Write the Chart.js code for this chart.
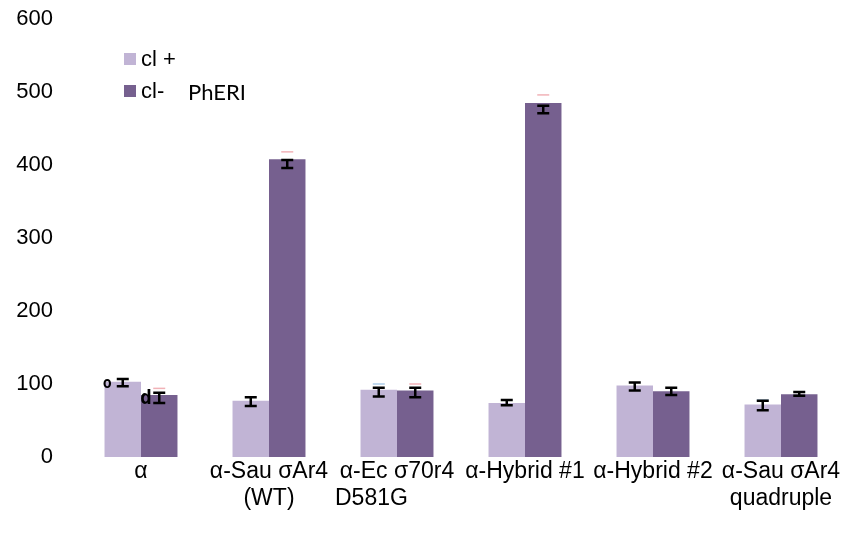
<!DOCTYPE html>
<html>
<head>
<meta charset="utf-8">
<script src="https://cdn.jsdelivr.net/npm/chart.js@4/dist/chart.umd.min.js"></script>
<style>
  html, body { margin: 0; padding: 0; background: #ffffff; }
  #wrap { width: 845px; height: 543px; position: relative; }
</style>
</head>
<body>
<div id="wrap"><canvas id="chart"></canvas></div>
<script>
// Categories (multi-line labels; the D581G line is padded so it sits under the start of its first line)
const categories = [
  ["α"],
  ["α-Sau σAr4", "(WT)"],
  ["α-Ec σ70r4", "D581G        "],
  ["α-Hybrid #1"],
  ["α-Hybrid #2"],
  ["α-Sau σAr4", "quadruple"]
];

// Series: cl +
const clPlus = [103, 77, 92, 74, 98, 72];
const clPlusErrHigh = [107, 82, 95, 78, 102, 77];
const clPlusErrLow = [97, 70, 83, 71, 91, 64];
const clPlusFaintCaps = [null, null, 100, null, null, 78];

// Series: cl- PhERI
const clMinus = [85, 408, 91, 485, 90, 86];
const clMinusErrHigh = [88, 407, 95, 481, 95, 89];
const clMinusErrLow = [74, 396, 82, 471, 85, 84];
const clMinusFaintCaps = [94, 418, 100, 496, null, null];

// Y axis ticks
const yTicks = [0, 100, 200, 300, 400, 500, 600];

const seriesLabels = ["cl +", "cl-"];
const seriesColors = ["#c1b4d5", "#76608f"];

const errorBarPlugin = {
  id: 'errorBars',
  afterDatasetsDraw(chart) {
    const ctx = chart.ctx;
    const y = chart.scales.y;
    const sets = [
      { hi: clPlusErrHigh, lo: clPlusErrLow, faint: clPlusFaintCaps, faintColor: 'rgba(150,190,225,0.8)' },
      { hi: clMinusErrHigh, lo: clMinusErrLow, faint: clMinusFaintCaps, faintColor: 'rgba(240,170,175,0.9)' }
    ];
    ctx.save();
    sets.forEach((s, di) => {
      const meta = chart.getDatasetMeta(di);
      meta.data.forEach((bar, i) => {
        const x = bar.x;
        const half = 6;
        if (s.faint[i] != null) {
          const yf = y.getPixelForValue(s.faint[i]);
          ctx.strokeStyle = s.faintColor;
          ctx.lineWidth = 1.5;
          ctx.beginPath();
          ctx.moveTo(x - half, yf);
          ctx.lineTo(x + half, yf);
          ctx.stroke();
        }
        const yh = y.getPixelForValue(s.hi[i]);
        const yl = y.getPixelForValue(s.lo[i]);
        ctx.strokeStyle = '#000000';
        ctx.lineWidth = 2.5;
        ctx.beginPath();
        ctx.moveTo(x, yh); ctx.lineTo(x, yl);
        ctx.moveTo(x - half, yh); ctx.lineTo(x + half, yh);
        ctx.moveTo(x - half, yl); ctx.lineTo(x + half, yl);
        ctx.stroke();
      });
    });

    // small stray glyphs beside the first group's error bars
    const m0 = chart.getDatasetMeta(0).data[0];
    const m1 = chart.getDatasetMeta(1).data[0];
    ctx.fillStyle = '#000000';
    ctx.textBaseline = 'alphabetic';
    ctx.textAlign = 'left';
    ctx.font = 'bold 15px "DejaVu Sans Mono", monospace';
    ctx.fillText('o', m0.x - 20, y.getPixelForValue(clPlus[0]) + 6);
    ctx.font = 'bold 19px "DejaVu Sans Mono", monospace';
    ctx.fillText('d', m1.x - 19, y.getPixelForValue(clMinusErrLow[0]) + 1);
    ctx.restore();
  }
};

const legendPlugin = {
  id: 'sideLegend',
  afterDraw(chart) {
    const ctx = chart.ctx;
    ctx.save();
    const x0 = 124, tops = [53, 85], size = 12;
    chart.data.datasets.forEach((ds, i) => {
      ctx.fillStyle = ds.backgroundColor;
      ctx.fillRect(x0, tops[i], size, size);
      ctx.fillStyle = '#000000';
      ctx.font = '22px "Liberation Sans", Arial, sans-serif';
      ctx.textBaseline = 'middle';
      ctx.textAlign = 'left';
      ctx.fillText(ds.label, x0 + 17, tops[i] + 7);
    });
    ctx.font = '22px Lato, "Open Sans", sans-serif';
    ctx.fillText('PhERI', 188, tops[1] + 8);
    ctx.restore();
  }
};

new Chart(document.getElementById('chart'), {
  type: 'bar',
  data: {
    labels: categories,
    datasets: [
      { label: seriesLabels[0], data: clPlus, backgroundColor: seriesColors[0] },
      { label: seriesLabels[1], data: clMinus, backgroundColor: seriesColors[1] }
    ]
  },
  options: {
    responsive: true,
    maintainAspectRatio: false,
    animation: false,
    layout: { padding: { top: 19, right: 0, bottom: 0, left: 0 } },
    categoryPercentage: 0.57,
    barPercentage: 1.0,
    plugins: {
      legend: { display: false },
      tooltip: { enabled: false }
    },
    scales: {
      x: {
        grid: { display: false, drawTicks: false },
        border: { display: false },
        ticks: {
          color: '#000000',
          font: { family: '"Liberation Sans", Arial, sans-serif', size: 23, lineHeight: 1.17 },
          padding: 1,
          maxRotation: 0,
          autoSkip: false
        },
        afterFit(scale) { scale.height = 86; }
      },
      y: {
        min: 0,
        max: 600,
        afterBuildTicks(scale) { scale.ticks = yTicks.map(v => ({ value: v })); },
        grid: { display: false, drawTicks: true, tickLength: 24 },
        border: { display: false },
        ticks: {
          color: '#000000',
          font: { family: '"Liberation Sans", Arial, sans-serif', size: 22 },
          padding: 0
        },
        afterFit(scale) { scale.width = 77; }
      }
    }
  },
  plugins: [errorBarPlugin, legendPlugin]
});
</script>
</body>
</html>
